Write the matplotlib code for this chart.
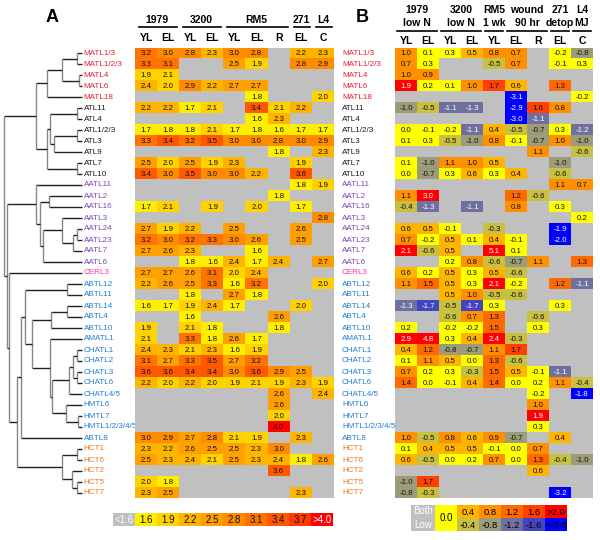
import matplotlib
matplotlib.use("Agg")
import matplotlib.pyplot as plt
import matplotlib.transforms as mtransforms
import numpy as np
from matplotlib.colors import BoundaryNorm, ListedColormap

plt.rcParams["font.family"] = ["Liberation Sans", "DejaVu Sans"]

n = np.nan

genes = [
    "MATL1/3", "MATL1/2/3", "MATL4", "MATL6", "MATL18",
    "ATL11", "ATL4", "ATL1/2/3", "ATL3", "ATL9", "ATL7", "ATL10",
    "AATL11", "AATL2", "AATL16", "AATL3", "AATL24", "AATL23", "AATL7", "AATL6",
    "CERL3",
    "ABTL12", "ABTL11", "ABTL14", "ABTL4", "ABTL10", "AMATL1",
    "CHATL1", "CHATL2", "CHATL3", "CHATL6", "CHATL4/5",
    "HMTL6", "HMTL7", "HMTL1/2/3/4/5", "ABTL8",
    "HCT1", "HCT6", "HCT2", "HCT5", "HCT7",
]
gene_family = (["MATL"] * 5 + ["ATL"] * 7 + ["AATL"] * 8 + ["CERL"]
               + ["ABTL"] * 15 + ["HCT"] * 5)

# panel A: expression level (log10), columns 1979 YL/EL, 3200 YL/EL, RM5 YL/EL/R, 271 EL, L4 C
cols_a = ["YL", "EL", "YL", "EL", "YL", "EL", "R", "EL", "C"]
groups_a = [("1979", 0, 1), ("3200", 2, 3), ("RM5", 4, 6), ("271", 7, 7), ("L4", 8, 8)]
expr = np.array([
    [3.2, 3.0, 2.8, 2.3, 3.0, 2.8, n, 2.2, 2.3],
    [3.3, 3.1, n, n, 2.5, 1.9, n, 2.8, 2.9],
    [1.9, 2.1, n, n, n, n, n, n, n],
    [2.4, 2.0, 2.9, 2.2, 2.7, 2.7, n, n, n],
    [n, n, n, n, n, 1.8, n, n, 2.0],
    [2.2, 2.2, 1.7, 2.1, n, 3.4, 2.1, 2.2, n],
    [n, n, n, n, n, 1.6, 2.3, n, n],
    [1.7, 1.8, 1.8, 2.1, 1.7, 1.8, 1.6, 1.7, 1.7],
    [3.3, 3.4, 3.2, 3.5, 3.0, 3.0, 2.8, 3.0, 2.9],
    [n, n, n, n, n, n, 1.8, n, 2.3],
    [2.5, 2.0, 2.5, 1.9, 2.3, n, n, 1.9, n],
    [3.4, 3.0, 3.5, 3.0, 3.0, 2.2, n, 3.6, n],
    [n, n, n, n, n, n, n, 1.8, 1.9],
    [n, n, n, n, n, n, 1.8, n, n],
    [1.7, 2.1, n, 1.9, n, 2.0, n, 1.7, n],
    [n, n, n, n, n, n, n, n, 2.8],
    [2.7, 1.9, 2.2, n, 2.5, n, n, 2.6, n],
    [3.2, 3.0, 3.2, 3.3, 3.0, 2.6, n, 2.5, n],
    [2.7, 2.6, 2.3, n, n, 1.6, n, n, n],
    [n, n, 1.8, 1.6, 2.4, 1.7, 2.4, n, 2.7],
    [2.7, 2.7, 2.6, 3.1, 2.0, 2.4, n, n, n],
    [2.2, 2.6, 2.5, 3.3, 1.6, 3.2, n, n, 2.0],
    [n, n, 1.8, n, 2.7, 1.8, n, n, n],
    [1.6, 1.7, 1.9, 2.4, 1.7, n, n, 2.0, n],
    [n, n, 1.6, n, n, n, 2.6, n, n],
    [1.9, n, 2.1, 1.8, n, n, 1.8, n, n],
    [2.1, n, 3.3, 1.8, 2.6, 1.7, n, n, n],
    [2.4, 2.3, 2.1, 2.3, 1.6, 1.9, n, n, n],
    [3.1, 2.7, 3.3, 3.5, 2.7, 3.2, n, n, n],
    [3.6, 3.6, 3.4, 3.4, 3.0, 3.6, 2.9, 2.5, n],
    [2.2, 2.0, 2.2, 2.0, 1.9, 2.1, 1.9, 2.3, 1.9],
    [n, n, n, n, n, n, 2.6, n, 2.4],
    [n, n, n, n, n, n, 2.6, n, n],
    [n, n, n, n, n, n, 2.0, n, n],
    [n, n, n, n, n, n, 4.0, n, n],
    [3.0, 2.9, 2.7, 2.8, 2.1, 1.9, n, 2.3, n],
    [2.3, 2.2, 2.6, 2.5, 2.5, 2.3, 3.0, n, n],
    [2.5, 2.3, 2.4, 2.1, 2.5, 2.3, 2.4, 1.8, 2.6],
    [n, n, n, n, n, n, 3.6, n, n],
    [2.0, 1.8, n, n, n, n, n, n, n],
    [2.3, 2.5, n, n, n, n, n, 2.3, n],
])

# panel B: log2 fold change under treatment
cols_b = ["YL", "EL", "YL", "EL", "YL", "EL", "R", "EL", "C"]
groups_b = [("1979", "low N", 0, 1), ("3200", "low N", 2, 3), ("RM5", "1 wk", 4, 4),
            ("wound", "90 hr", 5, 6), ("271", "detop", 7, 7), ("L4", "MJ", 8, 8)]
fold = np.array([
    [1.0, 0.1, 0.3, 0.5, 0.8, 0.7, n, -0.2, -0.8],
    [0.7, 0.3, n, n, -0.5, 0.7, n, -0.1, 0.3],
    [1.0, 0.9, n, n, n, n, n, n, n],
    [1.9, 0.2, 0.1, 1.0, 1.7, 0.6, n, 1.3, n],
    [n, n, n, n, n, -3.1, n, n, -0.2],
    [-1.0, -0.5, -1.1, -1.3, n, -2.9, 1.6, 0.8, n],
    [n, n, n, n, n, -3.0, -1.1, n, n],
    [0.0, -0.1, -0.2, -1.1, 0.4, -0.5, -0.7, 0.3, -1.2],
    [0.1, 0.3, -0.5, -1.0, 0.8, -0.1, -0.7, 1.0, -1.0],
    [n, n, n, n, n, n, 1.1, n, -0.6],
    [0.1, -1.0, 1.1, 1.0, 0.5, n, n, -1.0, n],
    [0.0, -0.7, 0.3, 0.6, 0.3, 0.4, n, -0.6, n],
    [n, n, n, n, n, n, n, 1.1, 0.7],
    [1.1, 3.0, n, n, n, 1.2, -0.6, n, n],
    [-0.4, -1.3, n, -1.1, n, 0.8, n, 0.3, n],
    [n, n, n, n, n, n, n, n, 0.2],
    [0.6, 0.5, -0.1, n, -0.3, n, n, -1.9, n],
    [0.7, -0.2, 0.5, 0.1, 0.4, -0.1, n, -2.0, n],
    [2.1, -0.6, 0.5, n, 5.1, 0.1, n, n, n],
    [n, n, 0.2, 0.8, -0.6, -0.7, 1.1, n, 1.3],
    [0.6, 0.2, 0.5, 0.3, 0.5, -0.6, n, n, n],
    [1.1, 1.5, 0.5, 0.3, 2.1, -0.2, n, 1.2, -1.1],
    [n, n, 0.5, 1.0, -0.5, -0.6, n, n, n],
    [-1.3, -1.7, -0.5, -1.7, 0.3, n, n, 0.3, n],
    [n, n, -0.6, 0.7, 1.3, n, -0.6, n, n],
    [0.2, n, -0.2, -0.2, 1.5, n, 0.3, n, n],
    [2.9, 4.8, 0.3, 0.4, 2.4, -0.3, n, n, n],
    [0.4, 1.2, -0.8, -0.7, 1.1, 1.7, n, n, n],
    [0.1, 1.1, 0.5, 0.0, 1.3, -0.6, n, n, n],
    [0.7, 0.2, 0.3, -0.3, 1.5, 0.5, -0.1, -1.1, n],
    [1.4, 0.0, -0.1, 0.4, 1.4, 0.0, 0.2, 1.1, -0.4],
    [n, n, n, n, n, n, -0.2, n, -1.8],
    [n, n, n, n, n, n, 1.0, n, n],
    [n, n, n, n, n, n, 1.9, n, n],
    [n, n, n, n, n, n, 0.3, n, n],
    [1.0, -0.5, 0.8, 0.6, 0.9, -0.7, n, 0.4, n],
    [0.1, 0.4, 0.5, 0.5, -0.1, 0.0, 0.7, n, n],
    [0.6, -0.5, 0.0, 0.2, 0.7, 0.0, 1.3, -0.4, -1.0],
    [n, n, n, n, n, n, 0.6, n, n],
    [-1.0, 1.7, n, n, n, n, n, n, n],
    [-0.8, -0.3, n, n, n, n, n, -3.2, n],
])

legend_a = [1.5, 1.6, 1.9, 2.2, 2.5, 2.8, 3.1, 3.4, 3.7, 4.0]
legend_a_text = ["<1.6", "1.6", "1.9", "2.2", "2.5", "2.8", "3.1", "3.4", "3.7", ">4.0"]
legend_b_up = [0.4, 0.8, 1.2, 1.6, 2.0]
legend_b_up_text = ["0.4", "0.8", "1.2", "1.6", ">2.0"]
legend_b_down = [-0.4, -0.8, -1.2, -1.6, -2.0]
legend_b_down_text = ["-0.4", "-0.8", "-1.2", "-1.6", "<-2.0"]

# cluster tree: [join position (px from left), child, child]
tree = [4,
        [36,
         [47, [62, [77, "MATL1/3", "MATL1/2/3"], [79, "MATL4", "MATL6"]], "MATL18"],
         [47, [50, [77, "ATL11", "ATL4"], [54, [77, "ATL1/2/3", "ATL3"], "ATL9"]],
          [77, "ATL7", "ATL10"]]],
        [6.5,
         [36, "AATL11",
          [40, [49, "AATL2", "AATL16"],
           [43, [62, "AATL3", [73, [77, "AATL24", "AATL23"], "AATL7"]], "AATL6"]]],
         [9, "CERL3",
          [17,
           [21,
            [25, [67, "ABTL12", "ABTL11"],
             [32, [51, [67, "ABTL14", "ABTL4"], "ABTL10"],
              [50, "AMATL1",
               [52, [69, [73, [77, "CHATL1", "CHATL2"], [77, "CHATL3", "CHATL6"]], "CHATL4/5"],
                [66, "HMTL6", [78, "HMTL7", "HMTL1/2/3/4/5"]]]]]],
            "ABTL8"],
           [62, [77, "HCT1", "HCT6"], [72, "HCT2", [77, "HCT5", "HCT7"]]]]]]]

family_colors = {"MATL": "#e8202a", "ATL": "#1a1a1a", "AATL": "#7d45b8",
                 "CERL": "#ff3399", "ABTL": "#1f7fd6", "HCT": "#f07820"}
gray = "#c0c0c0"

cmap_a = ListedColormap([gray, "#ffee00", "#ffd200", "#ffb400", "#ffa000", "#ff8c00",
                         "#ff7400", "#ff5800", "#ff3a00", "#ff0000"])
cmap_a.set_bad(gray)
norm_a = BoundaryNorm([0, 1.55, 1.85, 2.15, 2.45, 2.75, 3.05, 3.35, 3.65, 3.95, 10], cmap_a.N)

cmap_b = ListedColormap(["#0000ff", "#4444c0", "#7070a0", "#9c9c7a", "#c8c040", "#ffff00",
                         "#ffb400", "#ff9000", "#ff6a00", "#ff4000", "#ff0000"])
cmap_b.set_bad(gray)
norm_b = BoundaryNorm([-10, -1.75, -1.45, -1.05, -0.65, -0.25, 0.35, 0.65, 1.15, 1.55, 1.85, 10],
                      cmap_b.N)

W, H = 600, 540


def px_rect(x0, y0, x1, y1):
    return [x0 / W, 1 - y1 / H, (x1 - x0) / W, (y1 - y0) / H]


fig = plt.figure(figsize=(6, 5.4), dpi=100)

# dendrogram
ax_t = fig.add_axes(px_rect(0, 47.5, 85, 498.5))
ax_t.set_xlim(0, 85)
ax_t.set_ylim(len(genes) - 0.5, -0.5)
ax_t.axis("off")
leaf_x = 82


def draw(node):
    if isinstance(node, str):
        return leaf_x, genes.index(node)
    x = node[0]
    pts = [draw(k) for k in node[1:]]
    ys = [p[1] for p in pts]
    for cx, cy in pts:
        ax_t.plot([x, cx], [cy, cy], color="#222222", lw=1.0, solid_capstyle="butt")
    ax_t.plot([x, x], [min(ys), max(ys)], color="#888888", lw=1.0, solid_capstyle="butt")
    return x, (min(ys) + max(ys)) / 2


draw(tree)
for i, g in enumerate(genes):
    ax_t.text(83.5, i, g, fontsize=5.9, va="center", ha="left",
              color=family_colors[gene_family[i]])


def heatmap(ax, vals, cmap, norm, white_text):
    ax.imshow(np.ma.masked_invalid(vals), cmap=cmap, norm=norm, aspect="auto",
              interpolation="nearest")
    ax.set_xlim(-0.5, vals.shape[1] - 0.5)
    ax.set_ylim(vals.shape[0] - 0.5, -0.5)
    ax.axis("off")
    for i in range(vals.shape[0]):
        for j in range(vals.shape[1]):
            v = vals[i, j]
            if np.isnan(v):
                continue
            ax.text(j, i + 0.05, f"{v:.1f}", ha="center", va="center", fontsize=5.7,
                    color="white" if white_text(v) else "#111111")


# panel A
ax_a = fig.add_axes(px_rect(135, 47.5, 334, 498.5))
heatmap(ax_a, expr, cmap_a, norm_a, lambda v: False)
for j, c in enumerate(cols_a):
    ax_a.text(j, -1.34, c, ha="center", va="center", fontsize=7.5, fontweight="bold")
for name, c0, c1 in groups_a:
    ax_a.text((c0 + c1) / 2, -3.0, name, ha="center", va="center", fontsize=7.5,
              fontweight="bold")
    ax_a.plot([c0 - 0.32, c1 + 0.4], [-2.36, -2.36], color="black", lw=1.2, clip_on=False)
fig.text(52 / W, 1 - 18 / H, "A", fontsize=13, fontweight="bold", ha="center", va="center")

# panel B
ax_b = fig.add_axes(px_rect(395, 47.5, 593, 498.5))
heatmap(ax_b, fold, cmap_b, norm_b, lambda v: v >= 1.85 or v < -1.05)
for j, c in enumerate(cols_b):
    ax_b.text(j, -1.12, c, ha="center", va="center", fontsize=7.5, fontweight="bold")
for top, bottom, c0, c1 in groups_b:
    ax_b.text((c0 + c1) / 2, -3.9, top, ha="center", va="center", fontsize=7.5,
              fontweight="bold")
    ax_b.text((c0 + c1) / 2, -2.73, bottom, ha="center", va="center", fontsize=7.5,
              fontweight="bold")
    ax_b.plot([c0 - 0.4, c1 + 0.42], [-2.0, -2.0], color="black", lw=1.2, clip_on=False)
lab_tr = mtransforms.blended_transform_factory(ax_b.transAxes, ax_b.transData)
for i, g in enumerate(genes):
    ax_b.text((342 - 395) / 198, i, g, fontsize=5.9, va="center", ha="left",
              color=family_colors[gene_family[i]], transform=lab_tr)
fig.text(362 / W, 1 - 17 / H, "B", fontsize=13, fontweight="bold", ha="center", va="center")

# legend A
ax_la = fig.add_axes(px_rect(113, 513, 333, 526))
ax_la.imshow([legend_a], cmap=cmap_a, norm=norm_a, aspect="auto", interpolation="nearest")
ax_la.axis("off")
for j, t in enumerate(legend_a_text):
    ax_la.text(j, 0.05, t, ha="center", va="center", fontsize=7,
               color="white" if j in (0, len(legend_a_text) - 1) else "#111111")

# legend B
ax_lb = fig.add_axes(px_rect(411, 505, 567, 531))
edges = np.array([0, 24, 46, 68, 90, 112, 134, 156])
grid = np.array([[n, 0.0] + legend_b_up, [n, 0.0] + legend_b_down])
ax_lb.set_facecolor(gray)
ax_lb.pcolormesh(edges, [0, 1, 2], np.ma.masked_invalid(grid), cmap=cmap_b, norm=norm_b)
ax_lb.set_xlim(0, 156)
ax_lb.set_ylim(2, 0)
ax_lb.set_xticks([])
ax_lb.set_yticks([])
for s in ax_lb.spines.values():
    s.set_visible(False)
ax_lb.text(12, 0.5, "Both", ha="center", va="center", fontsize=7, color="white")
ax_lb.text(12, 1.5, "Low", ha="center", va="center", fontsize=7, color="white")
ax_lb.text(35, 1.0, "0.0", ha="center", va="center", fontsize=7)
for k in range(5):
    xc = (edges[k + 2] + edges[k + 3]) / 2
    ax_lb.text(xc, 0.55, legend_b_up_text[k], ha="center", va="center", fontsize=6.8)
    ax_lb.text(xc, 1.55, legend_b_down_text[k], ha="center", va="center", fontsize=6.8)

fig.savefig("out.png", dpi=100)
